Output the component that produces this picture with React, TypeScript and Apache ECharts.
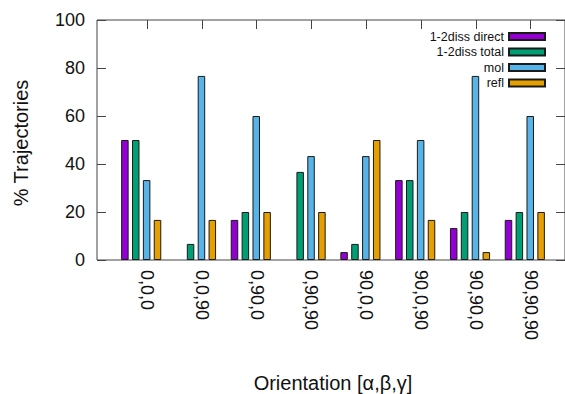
import React, { useEffect, useRef } from "react";
import * as echarts from "echarts";

const categories = ["0,0,0", "0,0,90", "0,90,0", "0,90,90", "90,0,0", "90,0,90", "90,90,0", "90,90,90"];
const seriesNames = ["1-2diss direct", "1-2diss total", "mol", "refl"];
const dissDirect = [50, 0, 16.7, 0, 3.3, 33.3, 13.3, 16.7];
const dissTotal = [50, 6.7, 20, 36.7, 6.7, 33.3, 20, 20];
const mol = [33.3, 76.7, 60, 43.3, 43.3, 50, 76.7, 60];
const refl = [16.7, 16.7, 20, 20, 50, 16.7, 3.3, 20];
const colors = ["#9400D3", "#009E73", "#56B4E9", "#E69F00"];
const yTicks = [0, 20, 40, 60, 80, 100];

const FONT = "Liberation Sans, Arial, sans-serif";

export default function App() {
  const ref = useRef<HTMLDivElement>(null);
  useEffect(() => {
    if (!ref.current) return;
    const chart = echarts.init(ref.current, null, { renderer: "svg" });
    const values = [dissDirect, dissTotal, mol, refl];
    const option: any = {
      animation: false,
      backgroundColor: "#ffffff",
      textStyle: { fontFamily: FONT },
      grid: [
        { left: 97, top: 20, width: 471, height: 240, show: true, borderColor: "#444", borderWidth: 1, backgroundColor: "transparent" },
        { left: 113.8, top: 20, width: 438.4, height: 240 },
        { left: 119.6, top: 20, width: 438.4, height: 240 },
      ],
      xAxis: [
        { gridIndex: 0, type: "value", show: false, min: 0, max: 1 },
        { gridIndex: 1, type: "category", data: categories, show: false },
        {
          gridIndex: 2, type: "category", data: categories, position: "bottom",
          axisLine: { show: false }, axisTick: { show: false },
          axisLabel: { rotate: -90, margin: 10, fontSize: 18, color: "#111", fontFamily: FONT, interval: 0 },
        },
        {
          gridIndex: 2, type: "category", data: categories, position: "top",
          axisLine: { show: false },
          axisTick: { show: true, inside: true, length: 9, alignWithLabel: true, lineStyle: { color: "#444" }, interval: 0 },
          axisLabel: { show: false },
        },
      ],
      yAxis: [
        {
          gridIndex: 0, type: "value", min: 0, max: 100, interval: 20, position: "left",
          axisLine: { show: false },
          axisTick: { show: true, inside: true, length: 9, lineStyle: { color: "#444" } },
          axisLabel: { margin: 12, fontSize: 18, color: "#111", fontFamily: FONT, formatter: (v: number) => (yTicks.includes(v) ? String(v) : "") },
          splitLine: { show: false },
        },
        {
          gridIndex: 0, type: "value", min: 0, max: 100, interval: 20, position: "right",
          axisLine: { show: false },
          axisTick: { show: true, inside: true, length: 9, lineStyle: { color: "#444" } },
          axisLabel: { show: false },
          splitLine: { show: false },
        },
        { gridIndex: 1, type: "value", min: 0, max: 100, show: false },
        { gridIndex: 2, type: "value", min: 0, max: 100, show: false },
      ],
      legend: {
        orient: "vertical",
        right: 14,
        top: 25,
        align: "right",
        icon: "rect",
        itemWidth: 36,
        itemHeight: 7,
        itemGap: 2.5,
        data: seriesNames,
        textStyle: { fontSize: 12.5, color: "#111", fontFamily: FONT },
      },
      series: seriesNames.map((name, i) => ({
        name,
        type: "bar",
        xAxisIndex: 1,
        yAxisIndex: 2,
        data: values[i].map((v) => (v === 0 ? { value: v, itemStyle: { borderWidth: 0 } } : v)),
        barWidth: 7.5,
        barGap: "45%",
        itemStyle: { color: colors[i], borderColor: "#1a1a1a", borderWidth: 1 },
      })),
      graphic: [
        {
          type: "text", x: 333, y: 383,
          style: { text: "Orientation [α,β,γ]", fontSize: 20, fontFamily: FONT, fill: "#111", textAlign: "center", textVerticalAlign: "middle" },
        },
        {
          type: "text", x: 21, y: 143, rotation: Math.PI / 2,
          style: { text: "% Trajectories", fontSize: 20, fontFamily: FONT, fill: "#111", textAlign: "center", textVerticalAlign: "middle" },
        },
      ],
    };
    chart.setOption(option);
    return () => chart.dispose();
  }, []);
  return <div ref={ref} style={{ position: "fixed", left: 0, top: 0, width: 565, height: 394 }} />;
}
